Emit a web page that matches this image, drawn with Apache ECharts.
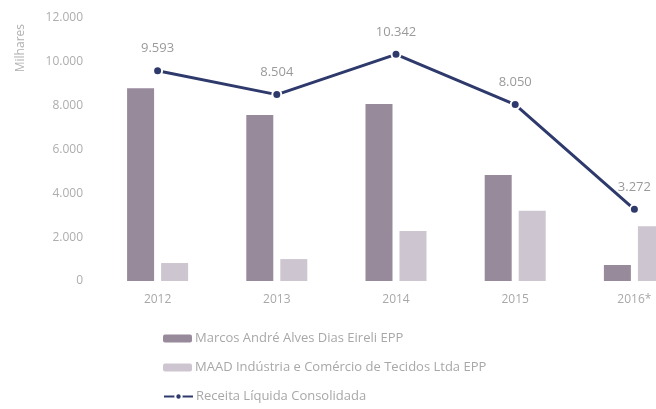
<!DOCTYPE html>
<html>
<head>
<meta charset="utf-8">
<script src="https://cdn.jsdelivr.net/npm/echarts@6/dist/echarts.min.js"></script>
<style>
html,body{margin:0;padding:0;background:#fff;}
#chart{width:656px;height:409px;}
</style>
</head>
<body>
<div id="chart"></div>
<script>
const categories = ['2012', '2013', '2014', '2015', '2016*'];
const seriesNames = ['Marcos André Alves Dias Eireli EPP', 'MAAD Indústria e Comércio de Tecidos Ltda EPP', 'Receita Líquida Consolidada'];
const marcosValues = [8800, 7570, 8080, 4840, 730];
const maadValues = [820, 1000, 2280, 3200, 2500];
const receitaValues = [9593, 8504, 10342, 8050, 3272];
const yTicks = [0, 2000, 4000, 6000, 8000, 10000, 12000];

function fmt(v) {
  return String(v).replace(/\B(?=(\d{3})+(?!\d))/g, '.');
}

const chart = echarts.init(document.getElementById('chart'), null, {renderer: 'canvas'});
const font = '"Open Sans", "Noto Sans", sans-serif';
const legendTops = [332, 361, 390];
chart.setOption({
  animation: false,
  backgroundColor: '#ffffff',
  textStyle: {fontFamily: font},
  grid: {left: 98, width: 596, top: 18, height: 263, containLabel: false, outerBoundsMode: 'none'},
  legend: seriesNames.map((n, i) => ({
    orient: 'horizontal',
    left: 163,
    top: legendTops[i],
    itemWidth: 29,
    itemHeight: 8,
    padding: 0,
    textStyle: {color: '#a8a8a8', fontSize: 13, fontFamily: font, padding: [0, 0, 0, -2]},
    data: [n]
  })),
  graphic: [{
    type: 'text',
    left: 15,
    top: 24,
    rotation: Math.PI / 2,
    style: {text: 'Milhares', fill: '#b0b0b0', font: '12px ' + font}
  }],
  xAxis: {
    type: 'category',
    data: categories,
    axisLine: {show: false},
    axisTick: {show: false},
    axisLabel: {color: '#a8a8a8', fontSize: 12, margin: 13, fontFamily: font}
  },
  yAxis: {
    type: 'value',
    min: yTicks[0],
    max: yTicks[yTicks.length - 1],
    interval: 2000,
    splitLine: {show: false},
    axisLine: {show: false},
    axisTick: {show: false},
    axisLabel: {color: '#adadad', fontSize: 12, margin: 15, fontFamily: font, formatter: v => fmt(v)}
  },
  series: [
    {
      name: seriesNames[0],
      type: 'bar',
      data: marcosValues,
      barWidth: 27,
      barGap: '26%',
      itemStyle: {color: '#978a9b'}
    },
    {
      name: seriesNames[1],
      type: 'bar',
      data: maadValues,
      barWidth: 27,
      barGap: '26%',
      itemStyle: {color: '#cdc5d0'}
    },
    {
      name: seriesNames[2],
      type: 'line',
      data: receitaValues,
      symbol: 'circle',
      symbolSize: 9,
      lineStyle: {color: '#2f3a6c', width: 3},
      itemStyle: {color: '#2f3a6c', borderColor: '#ffffff', borderWidth: 2},
      label: {show: true, position: 'top', distance: 10, color: '#9a9a9a', fontSize: 13, fontFamily: font, formatter: p => fmt(p.value)},
      z: 5
    }
  ]
});
</script>
</body>
</html>
